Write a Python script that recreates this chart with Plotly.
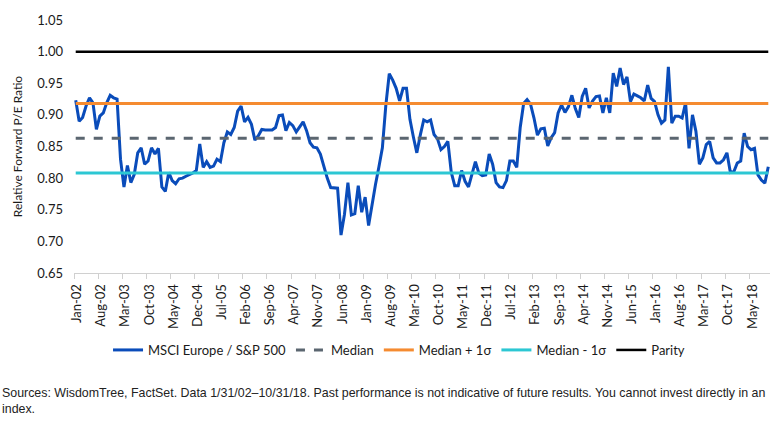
import plotly.graph_objects as go

# Monthly relative forward P/E (MSCI Europe / S&P 500), Jan-02 .. Oct-18
ratio = [
    0.923, 0.890, 0.896, 0.914, 0.927, 0.919, 0.877, 0.898, 0.903, 0.919,
    0.931, 0.927, 0.925, 0.830, 0.786, 0.820, 0.793, 0.806, 0.840, 0.848,
    0.822, 0.827, 0.848, 0.838, 0.847, 0.786, 0.779, 0.809, 0.796, 0.791,
    0.799, 0.800, 0.803, 0.805, 0.808, 0.812, 0.854, 0.817, 0.826, 0.817,
    0.819, 0.830, 0.826, 0.856, 0.873, 0.869, 0.880, 0.906, 0.914, 0.889,
    0.896, 0.885, 0.860, 0.867, 0.877, 0.876, 0.876, 0.876, 0.880, 0.899,
    0.900, 0.875, 0.888, 0.883, 0.873, 0.882, 0.889, 0.875, 0.856, 0.849,
    0.848, 0.838, 0.818, 0.800, 0.785, 0.784, 0.784, 0.710, 0.743, 0.793,
    0.742, 0.744, 0.788, 0.746, 0.770, 0.725, 0.760, 0.790, 0.818, 0.848,
    0.915, 0.965, 0.955, 0.942, 0.922, 0.942, 0.942, 0.893, 0.865, 0.840,
    0.868, 0.892, 0.889, 0.892, 0.869, 0.862, 0.845, 0.850, 0.858, 0.809,
    0.788, 0.788, 0.812, 0.795, 0.786, 0.806, 0.826, 0.808, 0.804, 0.805,
    0.838, 0.822, 0.793, 0.786, 0.785, 0.796, 0.827, 0.827, 0.817, 0.880,
    0.918, 0.924, 0.917, 0.895, 0.868, 0.878, 0.879, 0.851, 0.864, 0.872,
    0.903, 0.916, 0.904, 0.913, 0.931, 0.910, 0.896, 0.929, 0.942, 0.911,
    0.922, 0.929, 0.930, 0.903, 0.927, 0.903, 0.966, 0.945, 0.974, 0.948,
    0.960, 0.921, 0.933, 0.930, 0.927, 0.922, 0.947, 0.926, 0.921, 0.900,
    0.887, 0.892, 0.976, 0.887, 0.898, 0.898, 0.895, 0.919, 0.847, 0.900,
    0.874, 0.822, 0.832, 0.853, 0.858, 0.832, 0.824, 0.824, 0.829, 0.840,
    0.809, 0.810, 0.824, 0.827, 0.871, 0.850, 0.845, 0.847, 0.805, 0.797,
    0.792, 0.818,
]

median_val = 0.863
plus_sigma = 0.918
minus_sigma = 0.808
parity_val = 1.00

tick_labels = [
    "Jan-02", "Aug-02", "Mar-03", "Oct-03", "May-04", "Dec-04", "Jul-05",
    "Feb-06", "Sep-06", "Apr-07", "Nov-07", "Jun-08", "Jan-09", "Aug-09",
    "Mar-10", "Oct-10", "May-11", "Dec-11", "Jul-12", "Feb-13", "Sep-13",
    "Apr-14", "Nov-14", "Jun-15", "Jan-16", "Aug-16", "Mar-17", "Oct-17",
    "May-18",
]
tick_step = 7

n = len(ratio)
xs = list(range(n))
tickvals = [k * tick_step - 0.5 for k in range(len(tick_labels))]

FONT = "Lato"

fig = go.Figure()
fig.add_trace(go.Scatter(x=xs, y=ratio, mode="lines", name="MSCI Europe / S&P 500",
                         line=dict(color="#0A4CBA", width=3)))
fig.add_trace(go.Scatter(x=xs, y=[median_val] * n, mode="lines", name="Median",
                         line=dict(color="#5B6670", width=3, dash="dash")))
fig.add_trace(go.Scatter(x=xs, y=[plus_sigma] * n, mode="lines", name="Median + 1σ",
                         line=dict(color="#F58B30", width=3)))
fig.add_trace(go.Scatter(x=xs, y=[minus_sigma] * n, mode="lines", name="Median - 1σ",
                         line=dict(color="#2CC7D3", width=3)))
fig.add_trace(go.Scatter(x=xs, y=[parity_val] * n, mode="lines", name="Parity",
                         line=dict(color="#000000", width=2.5)))

fig.update_layout(
    width=784, height=438,
    margin=dict(l=74, r=14, t=18, b=165),
    paper_bgcolor="white", plot_bgcolor="white",
    font=dict(family=FONT, size=13, color="#1a1a1a"),
    showlegend=True,
    legend=dict(orientation="h", x=0.467, xanchor="center", y=-0.245, yanchor="top",
                font=dict(family=FONT, size=13), itemwidth=30, tracegroupgap=0),
)
fig.update_xaxes(
    range=[-0.5, n - 0.5],
    tickmode="array", tickvals=tickvals, ticktext=tick_labels,
    tickangle=-90, ticks="outside", ticklen=5, tickcolor="#d0d0d0",
    showline=True, linecolor="#d0d0d0", linewidth=1,
    showgrid=False, zeroline=False,
    tickfont=dict(family=FONT, size=13),
    ticklabelshift=3,
)
fig.update_yaxes(
    range=[0.65, 1.05], tick0=0.65, dtick=0.05, tickformat=".2f",
    showgrid=False, zeroline=False, showline=False,
    tickfont=dict(family=FONT, size=13),
    ticklabelstandoff=10,
    title=dict(text="Relative Forward P/E Ratio", font=dict(family=FONT, size=12), standoff=12),
)
fig.add_annotation(
    xref="paper", yref="paper", x=-74 / 696, y=-0.44, xanchor="left", yanchor="top",
    align="left", showarrow=False,
    text="Sources: WisdomTree, FactSet. Data 1/31/02–10/31/18. Past performance is not indicative of future results. You cannot invest directly in an<br>index.",
    font=dict(family="Liberation Sans", size=12.4, color="#222"),
)

fig.write_html("out.html")
